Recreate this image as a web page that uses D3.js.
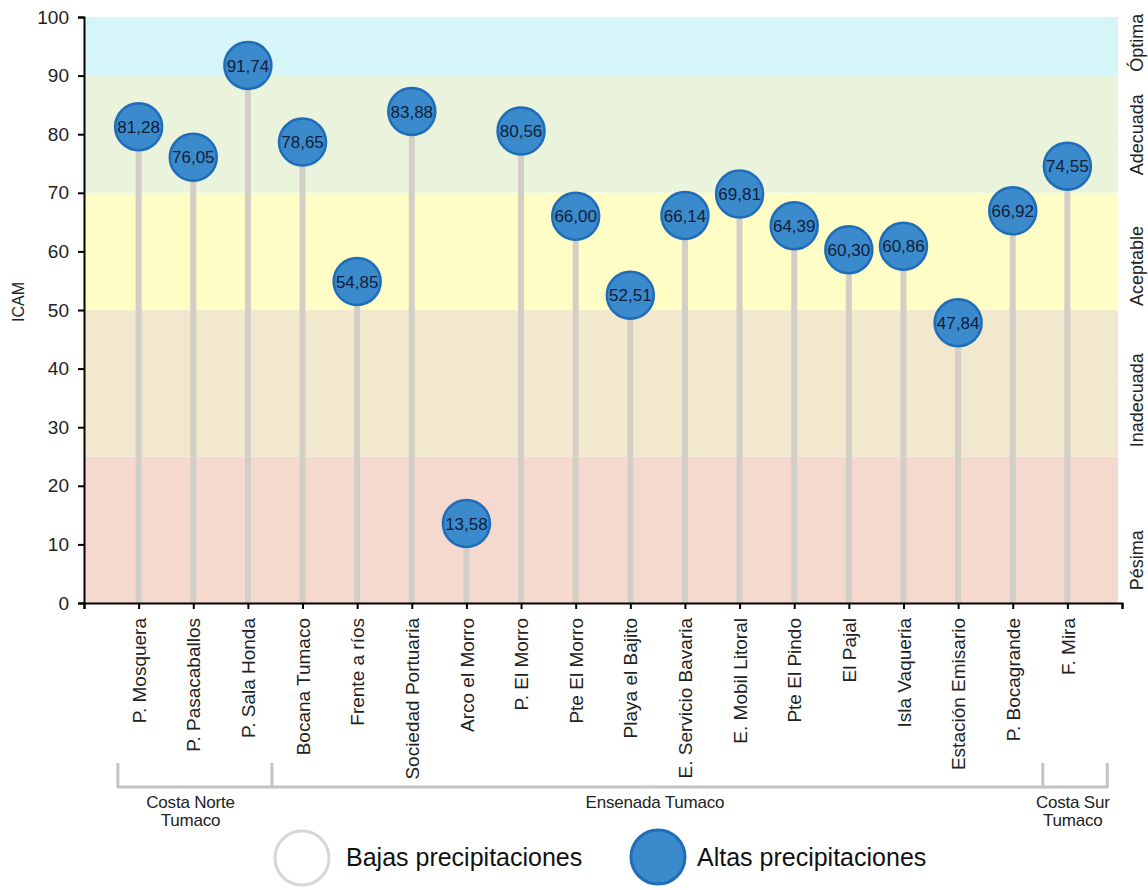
<!DOCTYPE html>
<html>
<head>
<meta charset="utf-8">
<script src="https://cdn.jsdelivr.net/npm/d3@7"></script>
<style>
  html, body { margin: 0; padding: 0; background: #fff; }
  svg text { font-family: "Liberation Sans", Arial, sans-serif; }
</style>
</head>
<body>
<svg id="chart" width="1148" height="890"></svg>
<script>
// ---------- data ----------
const categories = ["P. Mosquera", "P. Pasacaballos", "P. Sala Honda", "Bocana Tumaco", "Frente a ríos",
  "Sociedad Portuaria", "Arco el Morro", "P. El Morro", "Pte El Morro", "Playa el Bajito",
  "E. Servicio Bavaria", "E. Mobil Litoral", "Pte El Pindo", "El Pajal", "Isla Vaqueria",
  "Estación Emisario", "P. Bocagrande", "F. Mira"];
const altasValues = [81.28, 76.05, 91.74, 78.65, 54.85, 83.88, 13.58, 80.56, 66.00, 52.51,
  66.14, 69.81, 64.39, 60.30, 60.86, 47.84, 66.92, 74.55];
const yTicks = [0, 10, 20, 30, 40, 50, 60, 70, 80, 90, 100];
const bandNames = ["Pésima", "Inadecuada", "Aceptable", "Adecuada", "Óptima"];
const bandLow = [0, 25, 50, 70, 90];
const bandHigh = [25, 50, 70, 90, 100];
const groupNames = [["Costa Norte", "Tumaco"], ["Ensenada Tumaco"], ["Costa Sur", "Tumaco"]];
const legendLabels = ["Bajas precipitaciones", "Altas precipitaciones"];

// ---------- layout / style ----------
const bandColors = ["#f5d9ce", "#f2e8cd", "#fefdc6", "#eaf3db", "#d6f5f9"];
const bandLabelAt = [7.3, 34.6, 57.5, 79.9, 95.6];   // label centre positions (ICAM units)
const mLeft = 84, mRight = 1122, mTop = 17, mBottom = 603;
const svg = d3.select("#chart");

const x = d3.scaleLinear().domain([0, categories.length + 1]).range([mLeft, mRight]);
const y = d3.scaleLinear().domain([0, 100]).range([mBottom, mTop]);

// bands
const bands = bandNames.map((n, i) => ({ name: n, lo: bandLow[i], hi: bandHigh[i], color: bandColors[i], at: bandLabelAt[i] }));
svg.append("g").selectAll("rect").data(bands).join("rect")
  .attr("x", mLeft).attr("width", 1118 - mLeft)
  .attr("y", d => y(d.hi)).attr("height", d => y(d.lo) - y(d.hi))
  .attr("fill", d => d.color);

// band labels on right
svg.append("g").selectAll("text").data(bands).join("text")
  .attr("transform", d => `translate(1143,${y(d.at)}) rotate(-90)`)
  .attr("text-anchor", "middle")
  .attr("font-size", 18).attr("fill", "#222")
  .text(d => d.name);

const pts = categories.map((c, i) => ({ c, i: i + 1, v: altasValues[i] }));

// stems
svg.append("g").selectAll("line").data(pts).join("line")
  .attr("x1", d => x(d.i)).attr("x2", d => x(d.i))
  .attr("y1", y(0)).attr("y2", d => y(d.v))
  .attr("stroke", "#d3cfc6").attr("stroke-width", 6);

// y axis
const yAxis = svg.append("g").attr("transform", `translate(${mLeft},0)`)
  .call(d3.axisLeft(y).tickValues(yTicks).tickSize(6).tickPadding(9));
yAxis.select(".domain").attr("stroke", "#000").attr("stroke-width", 2);
yAxis.selectAll(".tick line").attr("stroke", "#000").attr("stroke-width", 2);
yAxis.selectAll(".tick text").attr("font-size", 19).attr("fill", "#222")
  .attr("font-family", "Liberation Sans, Arial, sans-serif");

// x axis
const xAxis = svg.append("g").attr("transform", `translate(0,${mBottom})`)
  .call(d3.axisBottom(x).tickValues(d3.range(0, categories.length + 2)).tickSize(6)
    .tickFormat(d => (d >= 1 && d <= categories.length) ? categories[d - 1] : ""));
xAxis.select(".domain").attr("stroke", "#000").attr("stroke-width", 2);
xAxis.selectAll(".tick line").attr("stroke", "#000").attr("stroke-width", 2);
xAxis.selectAll(".tick text")
  .attr("font-size", 19).attr("fill", "#222")
  .attr("font-family", "Liberation Sans, Arial, sans-serif")
  .attr("text-anchor", "end")
  .attr("transform", "rotate(-90)")
  .attr("x", -15).attr("y", 0).attr("dy", "0.35em");

// circles
const dots = svg.append("g").selectAll("g").data(pts).join("g")
  .attr("transform", d => `translate(${x(d.i)},${y(d.v)})`);
dots.append("circle").attr("r", 23.5)
  .attr("fill", "#3b8bcc").attr("stroke", "#1f6cb9").attr("stroke-width", 2.5);
dots.append("text").attr("text-anchor", "middle").attr("dy", "0.36em")
  .attr("font-size", 17).attr("fill", "#10203a")
  .text(d => d.v.toFixed(2).replace(".", ","));

// y title
svg.append("text")
  .attr("transform", `translate(24,302) rotate(-90)`)
  .attr("text-anchor", "middle").attr("font-size", 16).attr("fill", "#222")
  .text("ICAM");

// group brackets
const bounds = [0.62, 3.44, 17.55, 18.73];
const gBr = svg.append("g").attr("stroke", "#c4c4c4").attr("stroke-width", 3).attr("fill", "none");
gBr.append("line").attr("x1", x(bounds[0])).attr("x2", x(bounds[3])).attr("y1", 787).attr("y2", 787);
bounds.forEach(b => gBr.append("line").attr("x1", x(b)).attr("x2", x(b)).attr("y1", 763).attr("y2", 788));

const groupCenters = [1.95, 10.45, 18.1];
groupNames.forEach((lines, gi) => {
  const cx = x(groupCenters[gi]);
  const t = svg.append("text").attr("text-anchor", "middle").attr("font-size", 17)
    .attr("letter-spacing", -0.2).attr("fill", "#222");
  lines.forEach((ln, k) => t.append("tspan").attr("x", cx).attr("y", 808 + k * 18).text(ln));
});

// legend
const leg = svg.append("g");
leg.append("circle").attr("cx", 302).attr("cy", 858).attr("r", 27)
  .attr("fill", "#fff").attr("stroke", "#d6d6d6").attr("stroke-width", 3);
leg.append("text").attr("x", 346).attr("y", 866).attr("font-size", 25).attr("fill", "#111").text(legendLabels[0]);
leg.append("circle").attr("cx", 658).attr("cy", 857).attr("r", 27)
  .attr("fill", "#3b8bcc").attr("stroke", "#1f6cb9").attr("stroke-width", 3);
leg.append("text").attr("x", 697).attr("y", 866).attr("font-size", 25).attr("fill", "#111").text(legendLabels[1]);
</script>
</body>
</html>
